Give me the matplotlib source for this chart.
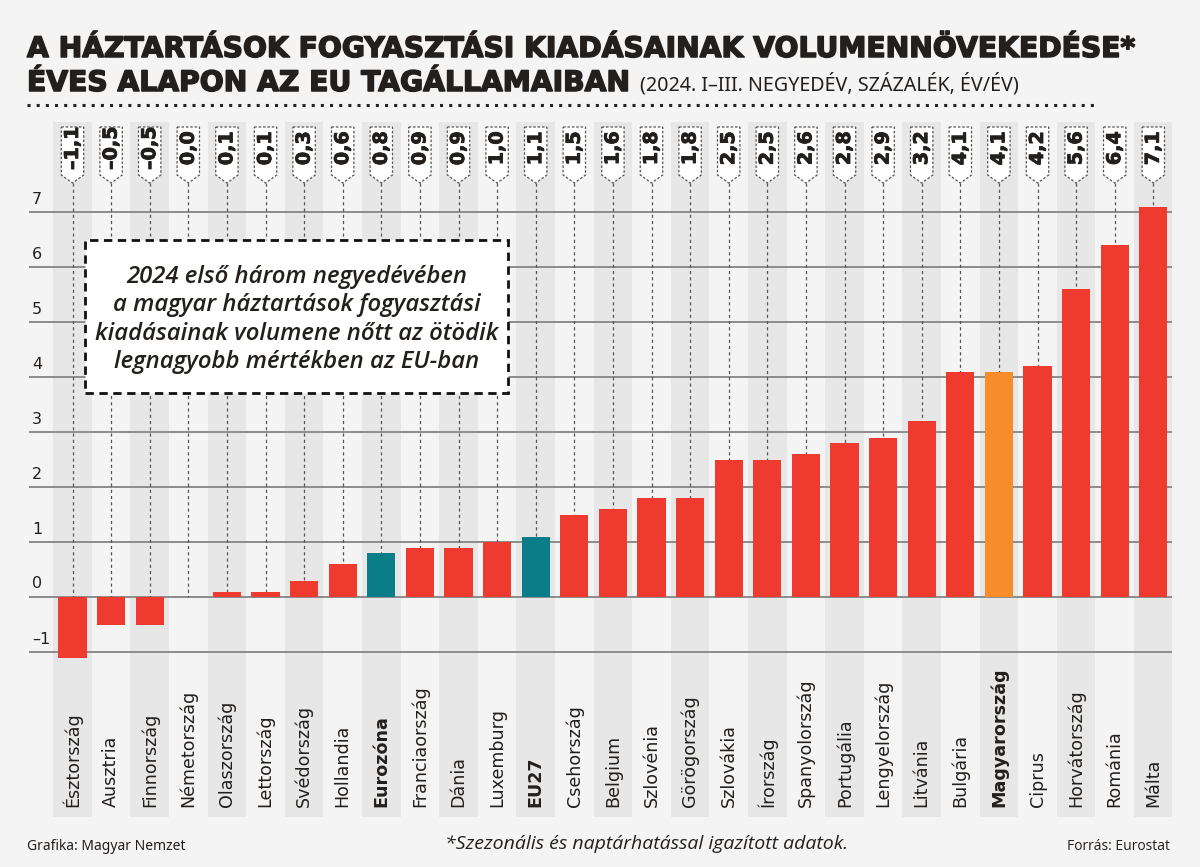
import matplotlib
matplotlib.use("Agg")
import matplotlib.pyplot as plt
from matplotlib.patches import Polygon, Rectangle
import matplotlib.patheffects as pe

countries = ["Észtország", "Ausztria", "Finnország", "Németország", "Olaszország",
             "Lettország", "Svédország", "Hollandia", "Eurozóna", "Franciaország",
             "Dánia", "Luxemburg", "EU27", "Csehország", "Belgium", "Szlovénia",
             "Görögország", "Szlovákia", "Írország", "Spanyolország", "Portugália",
             "Lengyelország", "Litvánia", "Bulgária", "Magyarország", "Ciprus",
             "Horvátország", "Románia", "Málta"]
values = [-1.1, -0.5, -0.5, 0.0, 0.1, 0.1, 0.3, 0.6, 0.8, 0.9, 0.9, 1.0, 1.1,
          1.5, 1.6, 1.8, 1.8, 2.5, 2.5, 2.6, 2.8, 2.9, 3.2, 4.1, 4.1, 4.2, 5.6,
          6.4, 7.1]
teal_items = ["Eurozóna", "EU27"]
orange_items = ["Magyarország"]
y_ticks = [-1, 0, 1, 2, 3, 4, 5, 6, 7]

RED = "#ef3b2f"
TEAL = "#0b7d89"
ORANGE = "#f78c2b"
BG = "#f4f4f4"
STRIPE = "#e7e7e7"
INK = "#231f1c"
GRID = "#8c8c8c"

W, H = 1200, 867
fig = plt.figure(figsize=(W / 100, H / 100), dpi=100, facecolor=BG)

def fx(px):
    return px / W

def fy(py):
    return 1 - py / H

heavy = [pe.withStroke(linewidth=1.1, foreground=INK)]
semi = [pe.withStroke(linewidth=0.6, foreground=INK)]

# axes spanning px x 29..1172, y 122..817
ax = fig.add_axes([fx(29), fy(817), fx(1172) - fx(29), fy(122) - fy(817)])
ax.set_facecolor(BG)
step = 38.6
x_left = (29 - 72.5) / step
x_right = (1172 - 72.5) / step
ax.set_xlim(x_left, x_right)
y_bottom = -(817 - 597) / 55
y_top = (597 - 122) / 55
ax.set_ylim(y_bottom, y_top)
for s in ax.spines.values():
    s.set_visible(False)
ax.set_xticks([])
ax.set_yticks([])

n = len(countries)
# stripes
for i in range(n):
    if i % 2 == 0:
        ax.axvspan(i - 0.5, i + 0.5, color=STRIPE, lw=0, zorder=0)

# grid lines and tick labels
for t in y_ticks:
    ax.axhline(t, color=GRID, lw=1.4, zorder=1)
    lab = "–1" if t < 0 else str(t)
    ax.text(x_left + 0.08, t + 0.1, lab, fontsize=11.5, color=INK,
            ha="left", va="bottom", family="DejaVu Sans", zorder=2)

# bars
colors = []
for c in countries:
    if c in teal_items:
        colors.append(TEAL)
    elif c in orange_items:
        colors.append(ORANGE)
    else:
        colors.append(RED)
ax.bar(range(n), values, width=0.73, color=colors, zorder=3)

# tags
tag_top = (597 - 127) / 55
tag_sh = (597 - 175) / 55
tag_tip = (597 - 183) / 55
hw = 0.29
for i, v in enumerate(values):
    poly = Polygon([(i - hw, tag_top), (i + hw, tag_top), (i + hw, tag_sh),
                    (i, tag_tip), (i - hw, tag_sh)], closed=True,
                   facecolor="white", edgecolor="#555555", lw=0.9,
                   linestyle=(0, (2, 1.5)), zorder=4)
    ax.add_patch(poly)
    lab = f"{v:.1f}".replace(".", ",").replace("-", "–")
    ax.text(i, (tag_top + tag_sh) / 2 + 0.05, lab, rotation=90, ha="center",
            va="center", fontsize=13.8, fontweight="bold", color=INK,
            family="DejaVu Sans", zorder=5, path_effects=semi)
    end = v if v > 0 else 0
    ax.plot([i, i], [tag_tip, end], color="#555555", lw=0.9,
            linestyle=(0, (2.5, 2.5)), zorder=2)

# category labels
lab_y = -(807 - 597) / 55
for i, c in enumerate(countries):
    bold = c in teal_items or c in orange_items
    ax.text(i, lab_y, c, rotation=90, ha="center", va="bottom", fontsize=12.6,
            color=INK, family="DejaVu Sans",
            fontweight="bold" if bold else "normal", zorder=5)

# annotation box
box = Rectangle((fx(85), fy(393)), fx(508) - fx(85), fy(240) - fy(393),
                transform=fig.transFigure, facecolor="white", edgecolor="#111111",
                lw=2, linestyle=(0, (3, 2)), zorder=10)
fig.patches.append(box)
ann_lines = ["2024 első három negyedévében",
             "a magyar háztartások fogyasztási",
             "kiadásainak volumene nőtt az ötödik",
             "legnagyobb mértékben az EU-ban"]
for k, line in enumerate(ann_lines):
    fig.text(fx(297), fy(277 + 28.3 * k), line, ha="center", va="center",
             fontsize=17.2, style="italic", fontweight="semibold", color=INK,
             family="Open Sans", zorder=11)

# title
t1 = fig.text(fx(27), fy(57), "A HÁZTARTÁSOK FOGYASZTÁSI KIADÁSAINAK VOLUMENNÖVEKEDÉSE*",
              ha="left", va="baseline", fontsize=20.3, fontweight="heavy", color=INK,
              family="DejaVu Sans", path_effects=heavy)
t2 = fig.text(fx(27), fy(91), "ÉVES ALAPON AZ EU TAGÁLLAMAIBAN",
              ha="left", va="baseline", fontsize=20.3, fontweight="heavy", color=INK,
              family="DejaVu Sans", path_effects=heavy)
fig.canvas.draw()
bb = t2.get_window_extent()
fig.text(bb.x1 / W + fx(8), fy(91), "(2024. I–III. NEGYEDÉV, SZÁZALÉK, ÉV/ÉV)",
         ha="left", va="baseline", fontsize=14.2, color=INK, family="Noto Sans")

# dotted separator
fig.add_artist(plt.Line2D([fx(27), fx(1097)], [fy(105), fy(105)],
                          transform=fig.transFigure, color="#222222", lw=2.2,
                          linestyle=(0, (1, 2))))

# footer
fig.text(fx(27), fy(847), "Grafika: Magyar Nemzet", ha="left", va="center",
         fontsize=10, color=INK, family="Noto Sans")
fig.text(fx(647), fy(844), "*Szezonális és naptárhatással igazított adatok.",
         ha="center", va="center", fontsize=14, style="italic", color=INK,
         family="Open Sans")
fig.text(fx(1170), fy(847), "Forrás: Eurostat", ha="right", va="center",
         fontsize=10, color=INK, family="Open Sans")

fig.savefig("out.png", dpi=100, facecolor=BG)
